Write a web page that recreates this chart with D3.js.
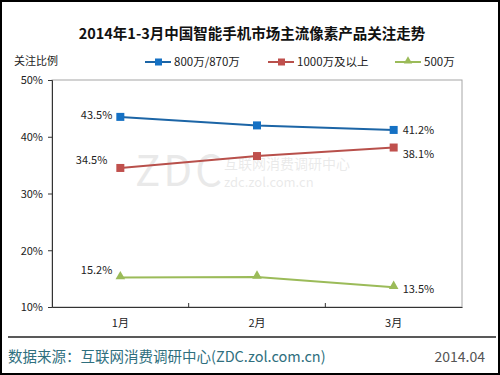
<!DOCTYPE html>
<html>
<head>
<meta charset="utf-8">
<script src="https://cdn.jsdelivr.net/npm/d3@7"></script>
<style>
body { margin: 0; background: #fff; }
svg text { font-family: "Noto Sans CJK SC", "Noto Sans", sans-serif; }
</style>
</head>
<body>
<svg width="500" height="375"></svg>
<script>
var months = ["1月", "2月", "3月"];
var seriesNames = ["800万/870万", "1000万及以上", "500万"];
var seriesBlue = [43.5, 42.0, 41.2];
var seriesRed = [34.5, 36.6, 38.1];
var seriesGreen = [15.2, 15.3, 13.5];
var yTicks = [10, 20, 30, 40, 50];

var colors = ["#1c65a6", "#b8504b", "#9bbb59"];
var markerColors = ["#1571c4", "#c0504d", "#9bbb59"];

var svgContext = d3.select("svg");
var svgWidth = 500, svgHeight = 375;
var plotLeft = 52, plotRight = 462, plotTop = 80, plotBottom = 307;

// outer frame
svgContext.append("rect")
    .attr("x", 1).attr("y", 1)
    .attr("width", svgWidth - 2).attr("height", svgHeight - 2)
    .attr("fill", "#fff").attr("stroke", "#000").attr("stroke-width", 2);

svgContext.append("text")
    .attr("x", 252).attr("y", 39)
    .attr("text-anchor", "middle")
    .attr("font-size", 14.5).attr("font-weight", "bold")
    .attr("fill", "#111")
    .text("2014年1-3月中国智能手机市场主流像素产品关注走势");

svgContext.append("text")
    .attr("x", 14).attr("y", 65)
    .attr("font-size", 11).attr("fill", "#222")
    .text("关注比例");

var x = d3.scaleBand().domain(months).range([plotLeft, plotRight]);
var y = d3.scaleLinear().domain([10, 50]).range([plotBottom, plotTop]);

// watermark
var wm = svgContext.append("g").attr("opacity", 0.12).attr("fill", "#555");
wm.append("text").attr("x", 135).attr("y", 186)
    .attr("font-size", 42).attr("font-family", "Liberation Serif, serif")
    .attr("letter-spacing", 3).text("ZDC");
wm.append("text").attr("x", 224).attr("y", 169)
    .attr("font-size", 14).text("互联网消费调研中心");
wm.append("text").attr("x", 224).attr("y", 187)
    .attr("font-size", 13).text("zdc.zol.com.cn");

// plot border
svgContext.append("rect")
    .attr("x", plotLeft).attr("y", plotTop)
    .attr("width", plotRight - plotLeft).attr("height", plotBottom - plotTop)
    .attr("fill", "none").attr("stroke", "#a6a6a6");

var yAxis = svgContext.append("g")
    .attr("transform", "translate(" + plotLeft + ",0)")
    .call(d3.axisLeft(y).tickValues(yTicks).tickSize(4)
        .tickFormat(function(d){ return d + "%"; }));
yAxis.select(".domain").attr("stroke", "#333");
yAxis.selectAll(".tick line").attr("stroke", "#333");
yAxis.selectAll("text").attr("font-size", 11).attr("fill", "#222")
    .attr("x", -9).attr("dy", "0.35em");

var xAxis = svgContext.append("g")
    .attr("transform", "translate(0," + plotBottom + ")")
    .call(d3.axisBottom(x).tickSize(0).tickPadding(12));
xAxis.select(".domain").attr("stroke", "#333");
xAxis.selectAll("text").attr("font-size", 11).attr("fill", "#222");
// category separator ticks
xAxis.selectAll("line.sep")
    .data(months.slice(1))
    .enter().append("line")
    .attr("class", "sep")
    .attr("x1", function(d){ return x(d); })
    .attr("x2", function(d){ return x(d); })
    .attr("y1", 0).attr("y2", -4)
    .attr("stroke", "#333");

var allSeries = [seriesBlue, seriesRed, seriesGreen];
var line = d3.line()
    .x(function(d, i){ return x(months[i]) + x.bandwidth() / 2; })
    .y(function(d){ return y(d); });

allSeries.forEach(function(vals, s) {
    svgContext.append("path")
        .datum(vals)
        .attr("d", line)
        .attr("fill", "none")
        .attr("stroke", colors[s])
        .attr("stroke-width", 2);
    vals.forEach(function(v, i) {
        var cx = x(months[i]) + x.bandwidth() / 2, cy = y(v);
        if (s < 2) {
            svgContext.append("rect")
                .attr("x", cx - 4).attr("y", cy - 4)
                .attr("width", 8).attr("height", 8)
                .attr("fill", markerColors[s]);
        } else {
            svgContext.append("path")
                .attr("d", d3.symbol().type(d3.symbolTriangle).size(40)())
                .attr("transform", "translate(" + cx + "," + (cy - 1) + ")")
                .attr("fill", markerColors[s]);
        }
    });
});

// data labels: first point on the left, last point on the right
var leftDy = [-2, -8, -7];
var rightDy = [0, 7, 2];
allSeries.forEach(function(vals, s) {
    var x0 = x(months[0]) + x.bandwidth() / 2;
    var x2 = x(months[2]) + x.bandwidth() / 2;
    svgContext.append("text")
        .attr("x", x0 - (s == 1 ? 13 : 8)).attr("y", y(vals[0]) + leftDy[s])
        .attr("text-anchor", "end").attr("dy", "0.35em")
        .attr("font-size", 11).attr("fill", "#222")
        .text(vals[0].toFixed(1) + "%");
    svgContext.append("text")
        .attr("x", x2 + 9).attr("y", y(vals[2]) + rightDy[s])
        .attr("dy", "0.35em")
        .attr("font-size", 11).attr("fill", "#222")
        .text(vals[2].toFixed(1) + "%");
});

// legend
var legendX = [145, 268, 395];
seriesNames.forEach(function(name, s) {
    var g = svgContext.append("g").attr("transform", "translate(" + legendX[s] + ",62)");
    g.append("line").attr("x1", 0).attr("x2", 26).attr("y1", 0).attr("y2", 0)
        .attr("stroke", colors[s]).attr("stroke-width", 2);
    if (s < 2) {
        g.append("rect").attr("x", 10).attr("y", -3.5).attr("width", 7).attr("height", 7)
            .attr("fill", markerColors[s]);
    } else {
        g.append("path").attr("d", d3.symbol().type(d3.symbolTriangle).size(30)())
            .attr("transform", "translate(13,-1)").attr("fill", markerColors[s]);
    }
    g.append("text").attr("x", 29).attr("y", 0).attr("dy", "0.35em")
        .attr("font-size", 11.5).attr("fill", "#222").text(name);
});

// footer
svgContext.append("line")
    .attr("x1", 8).attr("x2", 496).attr("y1", 337).attr("y2", 337)
    .attr("stroke", "#222").attr("stroke-width", 1.5);
svgContext.append("text")
    .attr("x", 8).attr("y", 362)
    .attr("font-size", 14.5).attr("fill", "#2f6f7e")
    .text("数据来源：互联网消费调研中心(ZDC.zol.com.cn)");
svgContext.append("text")
    .attr("x", 485).attr("y", 362).attr("text-anchor", "end")
    .attr("font-size", 14).attr("fill", "#555")
    .text("2014.04");
</script>
</body>
</html>
